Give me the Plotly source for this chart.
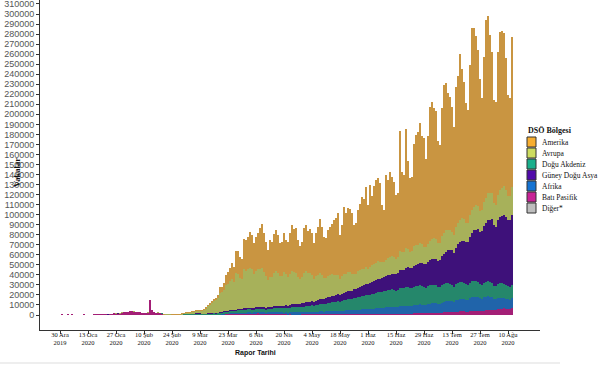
import plotly.graph_objects as go
import pandas as pd

# ---------------- DATA ----------------
start_date = "2019-12-30"
n_days = 227
dates = pd.date_range(start_date, periods=n_days)

tick_dates = ["2019-12-30", "2020-01-13", "2020-01-27", "2020-02-10", "2020-02-24",
              "2020-03-09", "2020-03-23", "2020-04-06", "2020-04-20", "2020-05-04",
              "2020-05-18", "2020-06-01", "2020-06-15", "2020-06-29", "2020-07-13",
              "2020-07-27", "2020-08-10"]
tick_labels = ["30 Ara<br>2019", "13 Oca<br>2020", "27 Oca<br>2020", "10 Şub<br>2020",
               "24 Şub<br>2020", "9 Mar<br>2020", "23 Mar<br>2020", "6 Nis<br>2020",
               "20 Nis<br>2020", "4 May<br>2020", "18 May<br>2020", "1 Haz<br>2020",
               "15 Haz<br>2020", "29 Haz<br>2020", "13 Tem<br>2020", "27 Tem<br>2020",
               "10 Ağu<br>2020"]
y_ticks = list(range(0, 310001, 10000))

bati_pasifik = (
    [0, 27, 0, 0, 17, 0, 15, 0, 0, 0, 0, 0, 41, 0, 0, 1, 4, 17, 136, 19,
     151, 140, 97, 259, 441, 665, 787, 1776, 1460, 1739, 1984, 2101, 2590, 2829, 3235, 3887, 3694, 3143, 3385, 2652,
     2984, 2473, 2022, 1820, 1998, 15153, 5090, 2641, 2009, 2048, 1886, 1749, 394, 889, 648, 409, 508, 406, 433, 327,
     427, 573]
    + [600, 700, 800, 600, 700, 600, 500, 400, 300, 300, 300, 200, 300, 300, 300, 400, 400, 500, 600, 800,
       900, 1000, 1100, 1200, 1300, 1400, 1400, 1600, 1500, 1400, 1800, 1700, 1900, 1800, 1600, 1800, 1900]
    + [2000, 1800, 1700, 1600, 1500, 1800, 1600, 1400, 1500, 1300, 1200, 1400, 1100, 1000, 1100, 900, 1000, 900, 800, 800,
       700, 700, 800, 600, 700, 600, 700, 600, 700, 600, 700, 800, 700, 600, 600, 700, 800, 700, 800, 700,
       600, 700, 800, 700, 800, 700, 800, 700, 800, 700, 800, 700, 800, 700, 800, 700, 800, 900, 800, 900,
       1000, 900, 1000, 1000]
    + [1000, 1100, 1000, 1200, 1100, 1000, 1100, 1300, 1200, 1300, 1400, 1300, 1200, 1300, 1500, 1500, 1600, 1700, 1600, 1500,
       1600, 1800, 1900, 2000, 2100, 2200, 2000, 2100, 2400, 2600, 2800, 2900, 3000, 2800, 2700, 3100, 3300, 3500, 3600, 3500,
       3300, 3200, 3600, 3900, 4100, 4200, 4000, 3800, 3700, 4300, 4600, 4900, 5000, 5200, 4800, 4900, 5600, 6000, 6300, 6600,
       6400, 6000, 6200, 7000]
)

afrika = (
    [0] * 45 + [1] + [0] * 11 + [1, 0, 1, 0, 0]
    + [0, 0, 0, 2, 3, 5, 5, 10, 10, 10, 20, 20, 30, 30, 50, 60, 80, 100, 120, 150,
       200, 250, 300, 300, 350, 400, 450, 500, 500, 550, 600, 600, 700, 700, 800, 800, 900]
    + [900, 1000, 1000, 1000, 900, 1000, 1100, 1100, 1200, 1200, 1300, 1300, 1400, 1400, 1500, 1500, 1600, 1600, 1700, 1800,
       1800, 1900, 2000, 2000, 2100, 2200, 2300, 2400, 2300, 2500, 2600, 2700, 2800, 2800, 2900, 3000, 3000, 3100, 3200, 3300,
       3400, 3300, 3500, 3600, 3700, 3800, 3900, 4000, 4100, 4200, 4400, 4500, 4700, 4800, 5000, 5100, 5300, 5400, 5600, 5800,
       6000, 6100, 6300, 6400]
    + [6500, 6700, 6900, 7000, 7100, 6800, 7000, 7600, 7400, 7500, 7900, 7800, 7600, 7700, 8200, 8400, 8600, 8800, 8500, 8400,
       8200, 8800, 9200, 9500, 9600, 9400, 9000, 9000, 10000, 10500, 11000, 11200, 11000, 10800, 10200, 11500, 12000, 12500, 12800, 12500,
       12000, 12000, 13000, 13800, 14200, 14000, 13500, 12800, 12500, 13200, 13500, 13800, 13000, 12500, 11000, 10800, 11500, 11200, 10800, 10500,
       10000, 9500, 9000, 9500]
)

dogu_akdeniz = (
    [0] * 51 + [2, 4, 12, 20, 40, 60, 90, 120, 150, 200, 350]
    + [600, 600, 800, 900, 1000, 1200, 1100, 1100, 1200, 1000, 1100, 1200, 1300, 1400, 1500, 1600, 1400, 1500, 1800, 2000,
       2100, 2300, 2400, 2600, 2700, 2800, 3000, 3100, 3200, 3300, 3400, 3300, 3500, 3600, 3400, 3200, 3300]
    + [3500, 3600, 3800, 3700, 3500, 3400, 3600, 3800, 4000, 4100, 4000, 4200, 4300, 4500, 4600, 4400, 4700, 5000, 5200, 5300,
       5000, 5400, 5600, 5800, 6000, 6200, 6300, 6500, 6400, 6800, 7000, 7300, 7500, 7600, 7900, 8200, 8500, 8800, 9000, 9400,
       9600, 9200, 9900, 10300, 10600, 11000, 11300, 11600, 11900, 12200, 12500, 12800, 13100, 13500, 13800, 14000, 14300, 14600, 14900, 15200,
       15500, 15700, 16000, 16200]
    + [16500, 16800, 17000, 17300, 17000, 16500, 17000, 18500, 18000, 18200, 19000, 18800, 18000, 17800, 18500, 18800, 19000, 19200, 18500, 18000,
       17500, 18000, 18500, 18600, 18400, 18000, 17000, 16500, 17500, 18000, 17800, 17500, 17000, 16500, 15500, 16500, 17000, 17000, 16500, 16000,
       15500, 15000, 15500, 16000, 16000, 15500, 15000, 14500, 14000, 14500, 15000, 15200, 15000, 14500, 13500, 13000, 14000, 14500, 14500, 14000,
       13500, 13000, 12500, 13500]
)

guney_dogu_asya = (
    [0] * 13 + [1] + [0] * 7 + [2, 0, 1, 3, 0, 2, 0, 0, 1, 1, 5, 0, 3] + [0] * 28
    + [0, 0, 0, 5, 10, 20, 20, 20, 30, 30, 40, 50, 60, 80, 100, 100, 120, 150, 200, 250,
       300, 300, 400, 450, 500, 500, 600, 600, 700, 800, 1000, 1200, 1300, 1200, 1300, 1400, 1500]
    + [1600, 1700, 1800, 1600, 1500, 1700, 1900, 2000, 2100, 2200, 2300, 2000, 2400, 2500, 2600, 2500, 2800, 3000, 2900, 3100,
       3000, 3200, 3400, 3600, 3800, 3900, 4100, 4300, 4000, 4500, 4700, 4900, 5200, 5000, 5300, 5600, 5900, 6100, 6300, 6600,
       6900, 6500, 7100, 7500, 7800, 8100, 8400, 8000, 8800, 9100, 9400, 9800, 10100, 10500, 10900, 11200, 11600, 12000, 12400, 12800,
       13200, 13600, 14000, 14300]
    + [14500, 14800, 15200, 15000, 15800, 16500, 16800, 17500, 18000, 18200, 19000, 19500, 19800, 20000, 21000, 21500, 22000, 22500, 23000, 22800,
       23500, 24000, 24800, 25500, 26000, 26500, 26000, 27000, 28500, 30000, 31500, 33000, 34000, 34500, 33500, 36000, 38000, 40000, 41000, 42000,
       41500, 43000, 46000, 48000, 50000, 51500, 53000, 52000, 54000, 57000, 59000, 61000, 62000, 63500, 60000, 59000, 64000, 66000, 67000, 69000,
       68000, 66000, 67000, 70000]
)

avrupa = (
    [0] * 25
    + [3, 0, 1, 4, 2, 5, 4, 2, 3, 1, 2, 1, 3, 3, 1, 4, 2, 1, 0, 1,
       1, 0, 0, 0, 1, 0, 0, 2, 20, 60, 80, 90, 120, 190, 260, 330, 480]
    + [600, 900, 1100, 1300, 1500, 1800, 2500, 2600, 2800, 3000, 3800, 5300, 7500, 9000, 10500, 12000, 12500, 14500, 19000, 19500,
       21000, 26000, 27000, 29000, 31000, 28000, 36000, 35000, 31000, 30000, 39000, 37000, 38000, 40000, 39000, 34000, 36000]
    + [38000, 38000, 39000, 35000, 31000, 27000, 30000, 30000, 33000, 35000, 33000, 30000, 30000, 33000, 31000, 29000, 31000, 33000, 32000, 31000,
       27000, 25000, 26000, 30000, 31000, 29000, 28000, 26000, 22000, 24000, 25000, 26000, 24000, 21000, 20000, 21000, 22000, 22000, 21000, 20000,
       19000, 16000, 18000, 19000, 18000, 19000, 18000, 17000, 15000, 15000, 17000, 17000, 17000, 16000, 17000, 15000, 16000, 17000, 17000, 17000,
       18000, 17000, 16000, 15000]
    + [16000, 17000, 17500, 18000, 17000, 15500, 16000, 19000, 18500, 18000, 19000, 18500, 16500, 17000, 19500, 20000, 19000, 20000, 19500, 17500,
       16500, 18000, 19500, 20000, 20500, 20000, 18000, 17500, 20000, 21000, 21500, 20500, 20000, 18000, 17500, 20500, 21000, 22000, 22500, 21500,
       19000, 18500, 21500, 23000, 23500, 24000, 23000, 20500, 20000, 23500, 25000, 26500, 27000, 25500, 22000, 21500, 25000, 27000, 28000, 28500,
       27000, 24000, 23500, 27500]
)

amerika = (
    [0] * 21
    + [1, 0, 0, 0, 0, 1, 0, 0, 0, 0, 1, 0, 0, 0, 0, 0, 0, 0, 0, 1,
       0, 0, 0, 0, 0, 0, 0, 0, 0, 0, 0, 1, 0, 0, 4, 10, 20, 25, 30, 20, 35]
    + [50, 30, 50, 80, 100, 100, 150, 200, 300, 300, 400, 500, 700, 1000, 1600, 2000, 2500, 3500, 6000, 5500,
       7500, 10000, 12000, 13500, 16000, 15000, 22500, 23000, 21000, 20000, 30000, 31000, 32500, 35500, 34000, 31000, 34500]
    + [36000, 40900, 43700, 39100, 34600, 30100, 36800, 34700, 39200, 41200, 38200, 33100, 33800, 39600, 34200, 34700, 40900, 46500, 43400, 45000,
       37500, 32800, 35200, 45000, 46400, 42100, 44600, 42200, 36600, 43600, 48000, 54300, 47800, 41000, 40300, 46500, 47800, 50300, 54700, 57000,
       62500, 44300, 50700, 66900, 61100, 64400, 63600, 60700, 49400, 50800, 60900, 66200, 72300, 70500, 80500, 64000, 82000, 69100, 78300, 83300,
       83300, 78700, 56700, 52100]
    + [85500, 78600, 85400, 79500, 75000, 63700, 64100, 119100, 79900, 76800, 118700, 87100, 73900, 74200, 101300, 108800, 111800, 118800, 106900, 107800,
       87700, 107400, 133100, 136400, 129400, 126900, 101000, 96900, 127600, 146900, 146400, 135900, 132000, 124400, 107600, 139400, 146700, 165000, 148600, 136500,
       119700, 112300, 149400, 181300, 178200, 168800, 155500, 131400, 111800, 144500, 176900, 176600, 157000, 140800, 102700, 102800, 141900, 157300, 156400, 152400,
       131100, 100500, 97800, 149500]
)

diger = [0] * 37 + [10, 10, 41, 3, 6, 65, 39, 0, 44, 0, 67, 70, 99, 88, 79, 13, 57, 0, 0, 14, 0, 0, 0, 0, 0] + [0] * 165

# stacking order (bottom -> top)
stack_names = ["Diğer*", "Batı Pasifik", "Afrika", "Doğu Akdeniz", "Güney Doğu Asya", "Avrupa", "Amerika"]
stack_values = [diger, bati_pasifik, afrika, dogu_akdeniz, guney_dogu_asya, avrupa, amerika]
# legend order
legend_names = ["Amerika", "Avrupa", "Doğu Akdeniz", "Güney Doğu Asya", "Afrika", "Batı Pasifik", "Diğer*"]

# legend swatch colours
colors = {
    "Amerika": "#F7AE30",
    "Avrupa": "#CDDC5F",
    "Doğu Akdeniz": "#1AAF8C",
    "Güney Doğu Asya": "#500AAA",
    "Afrika": "#1473D2",
    "Batı Pasifik": "#C82396",
    "Diğer*": "#BEBEBE",
}
# bar colours (fill darkened by the thin black bar outlines of the original)
bar_colors = {
    "Amerika": "#C99541",
    "Avrupa": "#A7B15A",
    "Doğu Akdeniz": "#25876B",
    "Güney Doğu Asya": "#3E117A",
    "Afrika": "#2064AA",
    "Batı Pasifik": "#A31F76",
    "Diğer*": "#9A9A9A",
}

for v in stack_values:
    assert len(v) == n_days, len(v)

# ---------------- FIGURE ----------------
fig = go.Figure()
for name, vals in zip(stack_names, stack_values):
    fig.add_trace(go.Bar(
        x=dates, y=vals, name=name,
        marker=dict(color=bar_colors[name], line=dict(width=0)),
        showlegend=False,
    ))

L, R, T, B = 40, 65, 0, 37
W, H = 605, 367
pw, ph = W - L - R, H - T - B


def px_x(x):
    return (x - L) / pw


def px_y(y):
    return (H - B - y) / ph


serif = "Liberation Serif, Times New Roman, serif"
sans = "Liberation Sans, Arial, sans-serif"

fig.update_layout(
    width=W, height=H,
    margin=dict(l=L, r=R, t=T, b=B, autoexpand=False),
    barmode="stack", bargap=0,
    plot_bgcolor="white", paper_bgcolor="white",
    showlegend=False,
    xaxis=dict(
        type="date", range=["2019-12-20", "2020-08-26"],
        tickvals=tick_dates, ticktext=tick_labels,
        showline=True, linecolor="#333333", linewidth=1,
        ticks="outside", ticklen=3, tickcolor="#333333",
        tickfont=dict(family=serif, size=6.5, color="#111111"),
        showgrid=False, zeroline=False, automargin=False,
        ticklabelstandoff=-5, ticklabeloverflow="allow",
    ),
    yaxis=dict(
        range=[-14950, 313950],
        tickvals=y_ticks, tickformat="d",
        showline=True, linecolor="#333333", linewidth=1,
        ticks="outside", ticklen=3, tickcolor="#333333",
        tickfont=dict(family=sans, size=9, color="#555555"),
        showgrid=False, zeroline=False, automargin=False,
        ticklabeloverflow="allow",
    ),
)

ann = []
ann.append(dict(text="<b>Vakalar</b>", x=px_x(17), y=px_y(173), xref="paper", yref="paper",
                xanchor="center", yanchor="middle",
                textangle=-90, showarrow=False, font=dict(family=serif, size=8.5, color="#111111")))
ann.append(dict(text="<b>Rapor Tarihi</b>", x=px_x(255), y=px_y(353), xref="paper", yref="paper",
                xanchor="center", yanchor="middle",
                showarrow=False, font=dict(family=sans, size=7, color="#111111")))
ann.append(dict(text="<b>DSÖ Bölgesi</b>", x=px_x(526), y=px_y(130), xref="paper", yref="paper",
                xanchor="left", yanchor="middle", showarrow=False,
                font=dict(family=serif, size=8, color="#111111")))

shapes = []
for i, name in enumerate(legend_names):
    cy = 142 + 11 * i
    shapes.append(dict(type="rect", xref="paper", yref="paper",
                       x0=px_x(527), x1=px_x(536), y0=px_y(cy + 5), y1=px_y(cy - 5),
                       fillcolor=colors[name], line=dict(color="#333333", width=1)))
    ann.append(dict(text=name, x=px_x(540), y=px_y(cy), xref="paper", yref="paper",
                    xanchor="left", yanchor="middle", showarrow=False,
                    font=dict(family=serif, size=7.5, color="#111111")))

shapes.append(dict(type="line", xref="paper", yref="paper",
                   x0=px_x(0), x1=px_x(560), y0=px_y(363), y1=px_y(363),
                   line=dict(color="#dddddd", width=1)))

fig.update_layout(annotations=ann, shapes=shapes)
fig.write_html("out.html", config={"displayModeBar": False},
               post_script="document.body.style.margin='0px';document.body.style.overflow='hidden';")
